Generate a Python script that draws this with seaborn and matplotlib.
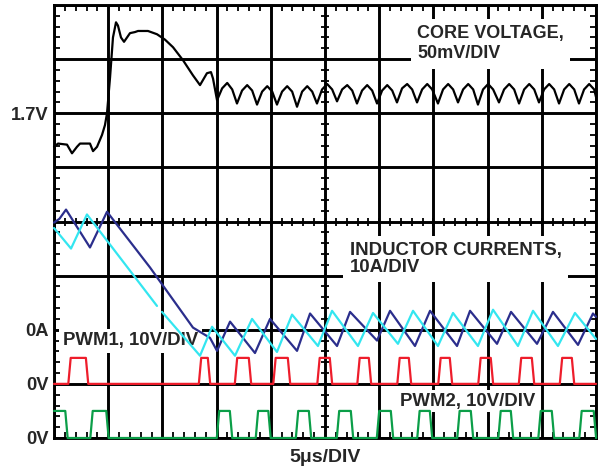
import numpy as np
import pandas as pd
import matplotlib
matplotlib.use("Agg")
import matplotlib.pyplot as plt
from matplotlib.ticker import MultipleLocator
import seaborn as sns

# ---------------- data (time in microseconds) ----------------
core_t = [0.00, 0.37, 1.20, 1.66, 2.12, 2.40, 3.32, 3.60, 3.97, 4.43, 4.70, 4.89,
          5.17, 5.44, 5.72, 5.90, 6.18, 6.46, 7.01, 7.47, 7.75, 8.67, 9.50, 10.24,
          10.98, 11.90, 12.82, 13.47, 14.11, 14.48, 14.67,
          15.04, 15.51, 15.98, 16.44, 16.88, 17.35, 17.82, 18.28,
          18.73, 19.20, 19.67, 20.13, 20.57, 21.04, 21.51, 21.97,
          22.42, 22.89, 23.36, 23.82, 24.26, 24.73, 25.20, 25.66,
          26.11, 26.58, 27.05, 27.51, 27.95, 28.42, 28.89, 29.35,
          29.80, 30.27, 30.74, 31.20, 31.64, 32.11, 32.58, 33.04,
          33.49, 33.96, 34.43, 34.89, 35.42, 35.89, 36.36, 36.82,
          37.27, 37.74, 38.21, 38.67, 39.11, 39.58, 40.05, 40.51,
          41.05, 41.52, 41.99, 42.45, 42.90, 43.37, 43.84, 44.30,
          44.74, 45.21, 45.68, 46.14, 46.59, 47.06, 47.53, 47.99,
          48.43, 48.90, 49.37, 49.83, 50.00]
core_mv = [-31, -28, -29, -37, -31, -28, -28, -35, -31, -20, -11, 0,
           33, 70, 84, 81, 70, 66, 74, 75, 76, 76, 73, 68,
           61, 49, 35, 26, 37, 38, 32,
           12, 23, 28, 22, 9, 21, 26, 21,
           8, 20, 25, 20, 8, 20, 25, 20,
           6, 20, 25, 20, 9, 22, 27, 22,
           11, 22, 26, 21, 9, 21, 26, 21,
           9, 21, 26, 21, 10, 23, 27, 22,
           10, 22, 27, 22, 9, 22, 27, 22,
           10, 22, 27, 22, 8, 22, 27, 22,
           10, 22, 27, 22, 9, 22, 27, 22,
           10, 22, 27, 22, 9, 22, 27, 22,
           9, 22, 27, 22, 15]

il1_t = [0.00, 0.50, 1.11, 3.32, 4.89, 8.86, 12.82, 14.39, 15.04, 16.24, 18.54,
         19.93, 22.42, 23.62, 26.11, 27.31, 29.80, 31.00, 33.30, 34.69, 37.18,
         38.38, 40.87, 42.16, 44.56, 46.03, 48.34, 49.72, 50.00]
il1_a = [19.8, 20.5, 22.2, 15.2, 21.8, 11.5, 0.4, -1.5, -3.9, 1.5, -4.3,
         2.0, -3.9, 3.0, -3.0, 3.3, -2.0, 3.5, -3.0, 3.5, -3.0,
         3.5, -2.6, 3.3, -2.6, 3.3, -2.8, 3.0, 2.4]

il2a_t = [0.00, 1.57, 3.04, 9.50]
il2a_a = [18.8, 15.0, 21.3, 4.4]
il2b_t = [9.96, 13.47, 14.58, 16.70, 18.27, 20.57, 21.96, 24.35, 25.65, 28.04,
          29.43, 31.73, 33.12, 35.42, 36.81, 39.11, 40.50, 42.80, 44.19, 46.49,
          48.06, 50.00]
il2b_a = [3.3, -4.8, 0.55, -4.8, 2.0, -4.1, 2.8, -3.0, 3.5, -3.0,
          3.1, -2.6, 3.5, -3.0, 3.1, -3.0, 3.7, -3.0, 3.5, -3.0,
          3.1, -1.7]

pwm1_on = [1.43, 13.47, 16.79, 20.34, 24.40, 28.09, 31.78, 35.56, 39.25, 42.99, 46.77]
pwm1_off = [3.05, 14.30, 18.08, 21.68, 25.55, 29.15, 32.84, 36.62, 40.40, 44.19, 47.88]
pwm2_on = [-1.00, 3.46, 15.13, 18.72, 22.42, 26.20, 29.89, 33.62, 37.31, 41.10, 44.79, 48.57]
pwm2_off = [1.15, 4.93, 16.33, 19.88, 23.62, 27.49, 31.18, 34.78, 38.56, 42.25, 46.03, 49.90]
pwm1_high_v = 4.8
pwm2_high_v = 5.0

y_tick_labels = ["0V", "0V", "0A", "", "", "", "1.7V", "", ""]

# scope settings
US_PER_DIV = 5
CORE_REF_DIV, MV_PER_DIV = 6, 50
IL_ZERO_DIV, A_PER_DIV = 2, 10
PWM1_ZERO_DIV, PWM2_ZERO_DIV, V_PER_DIV = 1, 0, 10
EDGE = 0.22

def pulses(on, off, high):
    t, v = [0.0], [0.0 if on[0] > 0 else high]
    for a, b in zip(on, off):
        if a > 0:
            t += [a - EDGE / 2, a + EDGE / 2]
            v += [0.0, high]
        t += [b - EDGE / 2, b + EDGE / 2]
        v += [high, 0.0]
    t.append(50.0)
    v.append(0.0)
    return np.array(t), np.array(v)

frames = []
def add(name, seg, t, y):
    frames.append(pd.DataFrame({"t": t, "div": y, "trace": name, "seg": seg}))

p1t, p1v = pulses(pwm1_on, pwm1_off, pwm1_high_v)
p2t, p2v = pulses(pwm2_on, pwm2_off, pwm2_high_v)
add("core", 0, core_t, CORE_REF_DIV + np.array(core_mv) / MV_PER_DIV)
add("pwm1", 1, p1t, PWM1_ZERO_DIV + p1v / V_PER_DIV)
add("pwm2", 2, p2t, PWM2_ZERO_DIV + p2v / V_PER_DIV)
add("il1", 3, il1_t, IL_ZERO_DIV + np.array(il1_a) / A_PER_DIV)
add("il2", 4, il2a_t, IL_ZERO_DIV + np.array(il2a_a) / A_PER_DIV)
add("il2", 5, il2b_t, IL_ZERO_DIV + np.array(il2b_a) / A_PER_DIV)
df = pd.concat(frames, ignore_index=True)

palette = {"core": "#000000", "pwm1": "#EE1D2B", "pwm2": "#0B9E48",
           "il1": "#2B2E8C", "il2": "#33E6F0"}

# ---------------- figure ----------------
sns.set_theme(style="white")
plt.rcParams["font.family"] = ["Liberation Sans", "DejaVu Sans"]
plt.rcParams["font.weight"] = "bold"

W, H = 598, 466
fig = plt.figure(figsize=(W / 100, H / 100), dpi=100)
ax = fig.add_axes([54 / W, 1 - 438 / H, (596 - 54) / W, (438 - 5) / H])

ax.set_xlim(0, 10 * US_PER_DIV)
ax.set_ylim(0, 8)
ax.set_xticks(np.arange(0, 10 * US_PER_DIV + 1, US_PER_DIV))
ax.set_yticks(range(9))
ax.set_xticklabels([])
ax.set_yticklabels(y_tick_labels, fontsize=13.2, fontweight="bold")
ax.grid(True, color="black", lw=2.1, zorder=0.5)
ax.set_axisbelow(True)
ax.tick_params(which="major", length=0, pad=4)
ax.xaxis.set_minor_locator(MultipleLocator(1))
ax.yaxis.set_minor_locator(MultipleLocator(0.2))
ax.tick_params(which="minor", direction="in", length=4, width=1.3, color="black",
               top=True, right=True, bottom=True, left=True)
for s in ax.spines.values():
    s.set_color("black")
    s.set_linewidth(2.1)

# center-line tick marks
yy = np.arange(0.2, 8, 0.2)
xx = np.arange(1, 50, 1)
ax.plot(np.full_like(yy, 25), yy, ls="none", marker="_", ms=6, mew=1.3, color="black", zorder=0.6)
ax.plot(xx, np.full_like(xx, 4.0, dtype=float), ls="none", marker="|", ms=6, mew=1.3, color="black", zorder=0.6)

sns.lineplot(data=df, x="t", y="div", hue="trace", units="seg", estimator=None,
             sort=False, palette=palette, legend=False, lw=1.6, ax=ax, zorder=4)
for ln in ax.get_lines()[2:]:
    ln.set_clip_on(False)
ax.set_ylabel("")
ax.set_xlabel("5\u03bcs/DIV", fontsize=14, fontweight="bold", labelpad=4)

box = dict(boxstyle="square,pad=0.35", facecolor="white", edgecolor="none")
ax.text(33.5, 7.63, "CORE VOLTAGE,\n50mV/DIV", fontsize=13, fontweight="bold",
        va="top", ha="left", linespacing=1.25, bbox=box, zorder=3)
ax.text(27.3, 3.62, "INDUCTOR CURRENTS,\n10A/DIV", fontsize=13.4, fontweight="bold",
        va="top", ha="left", linespacing=0.98, bbox=box, zorder=3)
ax.text(0.8, 1.95, "PWM1, 10V/DIV", fontsize=13.4, fontweight="bold",
        va="top", ha="left", bbox=dict(boxstyle="square,pad=0.2", facecolor="white", edgecolor="none"), zorder=3)
ax.text(31.9, 0.84, "PWM2, 10V/DIV", fontsize=13.4, fontweight="bold",
        va="top", ha="left", bbox=dict(boxstyle="square,pad=0.15", facecolor="white", edgecolor="none"), zorder=3)

fig.savefig("out.png", dpi=100)
